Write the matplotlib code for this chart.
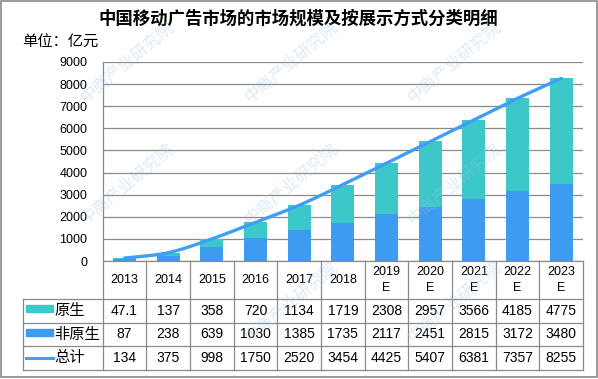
import numpy as np
import matplotlib
matplotlib.use('Agg')
import matplotlib.pyplot as plt
from matplotlib.transforms import blended_transform_factory
from matplotlib.patches import Rectangle
from matplotlib.lines import Line2D

# data
years = ['2013', '2014', '2015', '2016', '2017', '2018',
         '2019\nE', '2020\nE', '2021\nE', '2022\nE', '2023\nE']
native = [47.1, 137, 358, 720, 1134, 1719, 2308, 2957, 3566, 4185, 4775]
non_native = [87, 238, 639, 1030, 1385, 1735, 2117, 2451, 2815, 3172, 3480]
total = [134, 375, 998, 1750, 2520, 3454, 4425, 5407, 6381, 7357, 8255]
native_txt = ['47.1', '137', '358', '720', '1134', '1719', '2308', '2957', '3566', '4185', '4775']
yticks = [0, 1000, 2000, 3000, 4000, 5000, 6000, 7000, 8000, 9000]

c_native = '#3CC8C8'
c_non = '#3D9BF0'
c_line = '#3F9FF4'
grey = '#8a8a8a'
cjk = ['Noto Sans CJK SC', 'DejaVu Sans']
numf = ['Liberation Sans', 'Noto Sans CJK SC']

W, H = 598, 379


def fx(x):
    return x / W


def fy(y):
    return 1 - y / H


def smooth(xs, ys, n=20):
    # catmull-rom, just for drawing the curve like excel does
    pts = np.column_stack([xs, ys]).astype(float)
    p = np.vstack([pts[0], pts, pts[-1]])
    out = []
    t = np.linspace(0, 1, n, endpoint=False)[:, None]
    for i in range(1, len(p) - 2):
        p0, p1, p2, p3 = p[i - 1], p[i], p[i + 1], p[i + 2]
        seg = 0.5 * (2 * p1 + (-p0 + p2) * t + (2 * p0 - 5 * p1 + 4 * p2 - p3) * t ** 2
                     + (-p0 + 3 * p1 - 3 * p2 + p3) * t ** 3)
        out.append(seg)
    out.append(pts[-1:])
    return np.vstack(out)


fig = plt.figure(figsize=(5.98, 3.79), dpi=100)
L, R, T, B = 102.7, 583, 62, 261
ax = fig.add_axes([fx(L), fy(B), fx(R) - fx(L), fy(T) - fy(B)])

x = np.arange(len(years))
ax.bar(x, non_native, width=0.53, color=c_non, zorder=2)
ax.bar(x, native, width=0.53, bottom=non_native, color=c_native, zorder=2)
sm = smooth(x, total)
ax.plot(sm[:, 0], sm[:, 1], color=c_line, lw=2.4, zorder=3, solid_capstyle='round')

ax.set_xlim(-0.5, len(years) - 0.5)
ax.set_ylim(0, 9000)
ax.set_yticks(yticks)
ax.set_yticklabels([str(v) for v in yticks], fontfamily=numf, fontsize=9)
ax.tick_params(axis='y', length=0, pad=11)
ax.set_xticks([])
ax.yaxis.grid(True, color=grey, lw=0.9, zorder=0)
for s in ['top', 'right', 'bottom']:
    ax.spines[s].set_visible(False)
ax.spines['left'].set_color(grey)
ax.spines['left'].set_linewidth(0.9)

# table under the plot
tr = blended_transform_factory(ax.transData, fig.transFigure)
rows_y = [299, 322.5, 346, 369.5]
edges = np.arange(len(years) + 1) - 0.5
for e in edges:
    fig.add_artist(Line2D([e, e], [fy(B), fy(rows_y[-1])], transform=tr, color=grey, lw=0.9))
fig.add_artist(Line2D([fx(23), fx(23)], [fy(rows_y[0]), fy(rows_y[-1])], color=grey, lw=0.9))
fig.add_artist(Line2D([fx(L), fx(R)], [fy(B), fy(B)], color=grey, lw=0.9))
for ry in rows_y:
    fig.add_artist(Line2D([fx(23), fx(R)], [fy(ry), fy(ry)], color=grey, lw=0.9))

for i, yr in enumerate(years):
    fig.text(i, fy((B + rows_y[0]) / 2), yr, transform=tr, ha='center', va='center',
             fontfamily=numf, fontsize=9, linespacing=1.5)
    for r, txt in enumerate([native_txt[i], str(non_native[i]), str(total[i])]):
        fig.text(i, fy((rows_y[r] + rows_y[r + 1]) / 2), txt, transform=tr, ha='center',
                 va='center', fontfamily=numf, fontsize=10)

# legend column
fig.add_artist(Rectangle((fx(26), fy(312)), fx(27), fy(0) - fy(7), color=c_native))
fig.add_artist(Rectangle((fx(26), fy(335.5)), fx(27), fy(0) - fy(7), color=c_non))
fig.add_artist(Line2D([fx(26), fx(53)], [fy(357.5), fy(357.5)], color=c_line, lw=2.2))
for r, lab in enumerate(['原生', '非原生', '总计']):
    fig.text(fx(54), fy((rows_y[r] + rows_y[r + 1]) / 2), lab, ha='left', va='center',
             fontfamily=cjk, fontsize=11)

fig.text(fx(298), fy(19), '中国移动广告市场的市场规模及按展示方式分类明细', ha='center',
         va='center', fontfamily=cjk, fontsize=12.5, fontweight='bold')
fig.text(fx(22), fy(42), '单位：亿元', ha='left', va='center', fontfamily=cjk, fontsize=11)

# watermark
for wx, wy in [(83, 100), (247, 100), (410, 100),
               (83, 222), (247, 222), (410, 222),
               (247, 340), (410, 340)]:
    fig.text(fx(wx), fy(wy), '中商产业研究院', ha='left', va='center', rotation=40,
             rotation_mode='anchor', fontfamily=cjk, fontsize=12, color='#9cc3e6',
             alpha=0.35, zorder=10)

fig.add_artist(Rectangle((fx(1), fy(377)), fx(596), fy(0) - fy(376), fill=False,
                         edgecolor=grey, lw=1.2))

fig.savefig('out.png', dpi=100)
